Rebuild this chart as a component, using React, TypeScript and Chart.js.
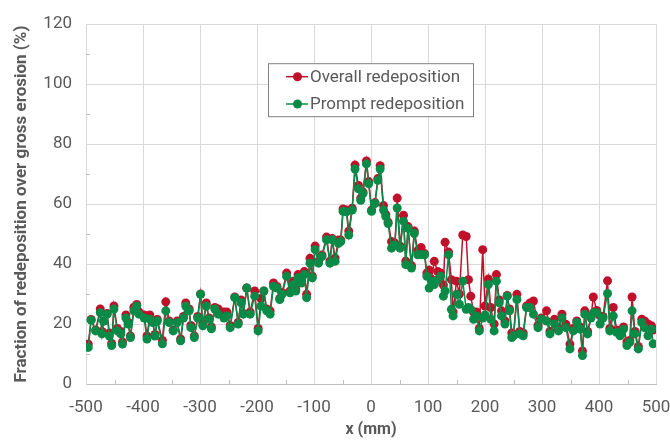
import { useEffect, useRef } from "react";
import { Chart, registerables } from "chart.js";

Chart.register(...registerables);

// Position along the sample (mm)
const xPositions = [
  -496, -491, -483, -475, -472, -469, -463, -459, -455, -451,
  -445, -439, -436, -430, -426, -422, -416, -411, -407, -398,
  -393, -388, -383, -379, -375, -366, -360, -354, -347, -340,
  -334, -329, -325, -319, -316, -310, -304, -299, -295, -289,
  -284, -280, -274, -268, -258, -253, -247, -239, -233, -228,
  -224, -218, -212, -204, -198, -193, -188, -183, -177, -171,
  -165, -160, -156, -148, -142, -136, -132, -128, -122, -117,
  -113, -107, -103, -98, -92, -86, -78, -72, -68, -63,
  -57, -53, -49, -43, -39, -33, -28, -22, -18, -14,
  -8, -4, 1, 7, 12, 16, 22, 26, 30, 36,
  42, 46, 51, 57, 61, 65, 71, 76, 82, 88,
  94, 98, 102, 106, 111, 117, 122, 127, 130, 136,
  141, 144, 150, 155, 161, 167, 171, 175, 180, 185,
  190, 196, 200, 206, 210, 216, 220, 225, 229, 235,
  239, 243, 247, 250, 256, 261, 267, 273, 279, 285,
  293, 299, 308, 314, 322, 329, 335, 342, 349, 355,
  361, 367, 371, 375, 380, 386, 390, 396, 402, 407,
  415, 419, 425, 431, 437, 443, 449, 454, 458, 463,
  469, 475, 480, 486, 492, 495,
];

// Overall redeposition fraction (%)
const overallRedeposition = [
  13.3, 21.5, 18, 25, 17.5, 21, 23.5, 17, 13.5, 26,
  18.5, 17.5, 14, 23, 20.5, 16, 25.6, 26.5, 24, 23,
  16, 23, 21, 16.5, 21.5, 14.5, 27.4, 21, 18, 21,
  15, 22.5, 27, 25, 19.5, 16, 22.5, 30, 20, 27,
  22, 19, 25.5, 25, 24, 24, 19.5, 29, 20.5, 28,
  23.5, 32, 24, 31, 18.5, 28.5, 31, 25, 24.4, 33.7,
  32.5, 28.5, 30.5, 37, 31, 34.3, 31.5, 36.5, 34, 37.5,
  29.9, 41.9, 36, 46, 41, 43, 49, 41, 48.5, 42,
  48, 48, 58.4, 58, 51, 58.6, 73, 66.2, 62, 64,
  74.4, 67.5, 58, 60.5, 68.5, 72.8, 59.5, 56.5, 54, 47.5,
  47, 62, 46, 56.3, 41, 52.5, 39.5, 51, 44.5, 45.5,
  43.5, 37, 38, 35, 40.9, 37.5, 37, 33, 47.3, 44,
  34.8, 24, 34.3, 30, 49.7, 49.2, 34.8, 29.3, 24, 24,
  18.5, 44.8, 26, 35, 25.5, 20, 36.5, 28, 24.4, 21,
  29.5, 25, 17, 16.5, 29.9, 17.5, 17, 26, 27, 27.7,
  19.5, 22, 24.4, 17.5, 21.6, 18.5, 23.3, 19.9, 13.3, 18.5,
  21, 19, 11, 24.4, 17.5, 22.5, 29, 24.5, 22.7, 22.5,
  34.4, 18.5, 25.5, 18, 17, 19, 14, 14.5, 29, 17.5,
  12.5, 21.6, 21, 20, 19.4, 18,
];

// Prompt redeposition fraction (%)
const promptRedeposition = [
  12.2, 21.3, 17.7, 23.8, 16.7, 21, 23.3, 16, 12.8, 25,
  17.7, 16.7, 13.3, 22, 20, 15.5, 24.4, 26, 23.3, 22,
  15, 21.6, 20.5, 16, 21, 13.4, 24.4, 20.5, 17.7, 20.5,
  14.4, 22, 26, 24.4, 18.8, 15.5, 22, 29.9, 19.4, 26,
  21.6, 18.4, 25, 23.3, 22, 22.7, 18.8, 28.8, 20, 27.1,
  23.3, 32, 23.3, 29.3, 17.7, 26, 31, 24.4, 23.3, 32.6,
  32, 28.2, 29.9, 35.9, 30.4, 33.2, 31, 35.4, 33.7, 36.5,
  28.8, 40.3, 35.4, 44.8, 40.3, 42.5, 48.1, 40.3, 48.1, 40.9,
  46.9, 47.5, 57.6, 57.4, 49.7, 58, 71.7, 65.1, 61.3, 63.5,
  73.4, 66.8, 57.6, 60.2, 67.9, 71.7, 58, 55.8, 53.5, 45.3,
  46.4, 58.7, 45.3, 54.3, 39.8, 51.9, 38.7, 50.2, 43.1, 43.1,
  43.1, 35.9, 32, 34.3, 33.2, 34.8, 35.9, 29.3, 31, 43.1,
  24.9, 22.7, 29.9, 26.6, 34.3, 24.9, 25.5, 24.9, 21.6, 22.7,
  17.7, 22, 23, 33.2, 21.6, 17.7, 34.3, 27.1, 22.7, 20,
  29.3, 24.4, 15.5, 16.1, 28.2, 16.7, 16.1, 25.5, 25.5, 23.3,
  18.8, 21.6, 21, 16.7, 20, 17.7, 22, 18.8, 11.7, 17.7,
  20.5, 18.3, 9.5, 23.3, 16.7, 22, 23.8, 23.8, 20, 22,
  30.2, 17.7, 22.7, 17.2, 16.1, 18.3, 12.8, 13.9, 24.4, 16.7,
  11.7, 20.5, 18.8, 16.1, 18.3, 13.4,
];

const seriesNames = ["Overall redeposition", "Prompt redeposition"];
const seriesColors = ["#C0112B", "#0A8A47"];

const X_MIN = -500;
const X_MAX = 500;
const X_STEP = 100;
const Y_MIN = 0;
const Y_MAX = 120;
const Y_STEP = 20;

const FONT = "Roboto, 'Noto Sans', sans-serif";
const TEXT_COLOR = "#595959";

const toPoints = (ys: number[]) => xPositions.map((x, i) => ({ x, y: ys[i] }));

// Short inside tick marks at every half step along both axes
const minorTicks = {
  id: "minorTicks",
  beforeDatasetsDraw(chart: Chart) {
    const { ctx, chartArea, scales } = chart;
    const xs = scales.x;
    const ys = scales.y;
    ctx.save();
    ctx.strokeStyle = "#bfbfbf";
    ctx.lineWidth = 1;
    ctx.beginPath();
    for (let v = X_MIN + X_STEP / 2; v < X_MAX; v += X_STEP) {
      const px = Math.round(xs.getPixelForValue(v)) + 0.5;
      ctx.moveTo(px, chartArea.bottom);
      ctx.lineTo(px, chartArea.bottom - 4);
    }
    for (let v = Y_MIN + Y_STEP / 2; v < Y_MAX; v += Y_STEP) {
      const py = Math.round(ys.getPixelForValue(v)) + 0.5;
      ctx.moveTo(chartArea.left, py);
      ctx.lineTo(chartArea.left + 4, py);
    }
    ctx.stroke();
    ctx.restore();
  },
};

// Boxed legend with a line-and-marker swatch, placed inside the plot area
const boxedLegend = {
  id: "boxedLegend",
  afterDraw(chart: Chart) {
    const { ctx, chartArea } = chart;
    const left = chartArea.left + 182;
    const top = chartArea.top + 39;
    const w = 205;
    const h = 53;
    ctx.save();
    ctx.fillStyle = "#ffffff";
    ctx.fillRect(left, top, w, h);
    ctx.strokeStyle = "#808080";
    ctx.lineWidth = 1;
    ctx.strokeRect(left + 0.5, top + 0.5, w, h);
    seriesNames.forEach((name, i) => {
      const cy = top + 13.5 + i * 27.3;
      ctx.strokeStyle = seriesColors[i];
      ctx.lineWidth = 1.5;
      ctx.beginPath();
      ctx.moveTo(left + 18, cy);
      ctx.lineTo(left + 40, cy);
      ctx.stroke();
      ctx.fillStyle = seriesColors[i];
      ctx.beginPath();
      ctx.arc(left + 29.5, cy, 4.5, 0, Math.PI * 2);
      ctx.fill();
      ctx.fillStyle = TEXT_COLOR;
      ctx.font = `17px ${FONT}`;
      ctx.textBaseline = "middle";
      ctx.textAlign = "left";
      ctx.fillText(name, left + 42, cy + 1);
    });
    ctx.restore();
  },
};

export default function App() {
  const canvasRef = useRef<HTMLCanvasElement | null>(null);

  useEffect(() => {
    document.body.style.margin = "0";
    const canvas = canvasRef.current;
    if (!canvas) return;
    const chart = new Chart(canvas, {
      type: "scatter",
      data: {
        datasets: [
          {
            label: seriesNames[0],
            data: toPoints(overallRedeposition),
            showLine: true,
            borderColor: seriesColors[0],
            backgroundColor: seriesColors[0],
            borderWidth: 1.5,
            pointRadius: 4.5,
            pointBorderWidth: 0,
            order: 2,
          },
          {
            label: seriesNames[1],
            data: toPoints(promptRedeposition),
            showLine: true,
            borderColor: seriesColors[1],
            backgroundColor: seriesColors[1],
            borderWidth: 1.5,
            pointRadius: 4.5,
            pointBorderWidth: 0,
            order: 1,
          },
        ],
      },
      options: {
        animation: false,
        responsive: false,
        layout: { padding: { top: 20, right: 0, left: 0, bottom: 0 } },
        plugins: {
          legend: { display: false },
          tooltip: { enabled: false },
        },
        scales: {
          x: {
            type: "linear",
            min: X_MIN,
            max: X_MAX,
            afterFit: (scale: any) => {
              scale.height = 56;
              scale.paddingLeft = 0;
              scale.paddingRight = 14;
            },
            ticks: {
              stepSize: X_STEP,
              maxRotation: 0,
              color: TEXT_COLOR,
              font: { family: FONT, size: 17 },
              padding: 14,
            },
            grid: { color: "#d9d9d9", drawTicks: false },
            border: { color: "#bfbfbf" },
            title: {
              display: true,
              text: "x (mm)",
              color: TEXT_COLOR,
              font: { family: FONT, size: 16, weight: "bold" },
              padding: { top: 2, bottom: 0 },
            },
          },
          y: {
            min: Y_MIN,
            max: Y_MAX,
            afterFit: (scale: any) => {
              scale.width = 86;
            },
            ticks: {
              stepSize: Y_STEP,
              color: TEXT_COLOR,
              font: { family: FONT, size: 17 },
              padding: 14,
            },
            grid: { color: "#d9d9d9", drawTicks: false },
            border: { color: "#d9d9d9" },
            title: {
              display: true,
              text: "Fraction of redeposition over gross erosion (%)",
              color: TEXT_COLOR,
              font: { family: FONT, size: 17, weight: "bold" },
              padding: { top: 12, bottom: 0 },
            },
          },
        },
      },
      plugins: [minorTicks, boxedLegend],
    });
    return () => chart.destroy();
  }, []);

  return (
    <div style={{ width: 670, height: 440 }}>
      <canvas ref={canvasRef} width={670} height={440} />
    </div>
  );
}
